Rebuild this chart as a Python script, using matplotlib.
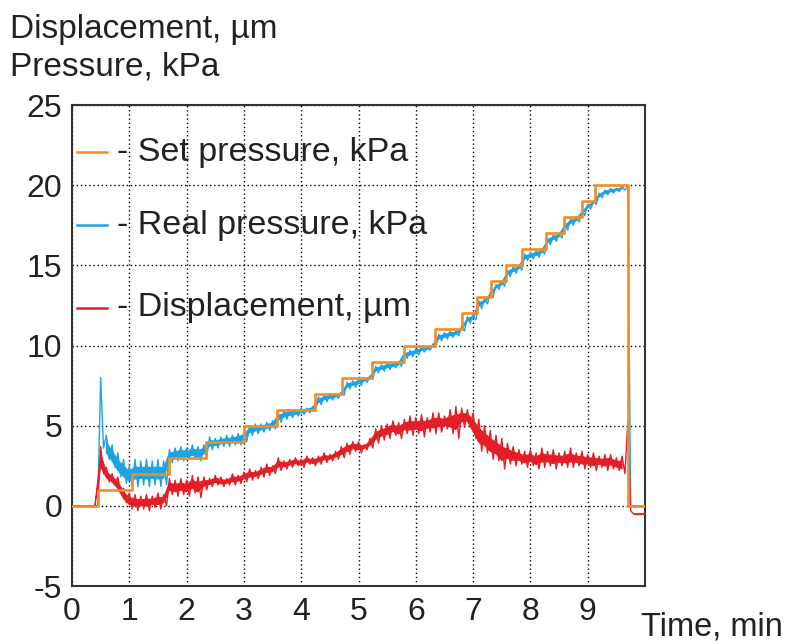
import matplotlib
matplotlib.use("Agg")
import matplotlib.pyplot as plt
import numpy as np

plt.rcParams['font.family'] = ['Liberation Sans', 'DejaVu Sans']
plt.rcParams['axes.unicode_minus'] = False

# sample times, min (noise band read as upper value at t, lower value at t + 0.05)
t = np.round(np.arange(0, 10.05, 0.1), 2)

disp_hi = [0, 0, 0, 0, 0, 3.7, 2.4, 2.0, 1.8, 1.1,
           0.8, 0.7, 0.6, 0.7, 0.6, 0.8, 0.7, 1.7, 1.6, 1.7,
           1.6, 1.9, 1.8, 1.8, 1.7, 1.9, 1.8, 1.7, 2.0, 1.9,
           2.1, 2.3, 2.2, 2.4, 2.6, 2.5, 3.0, 2.8, 2.9, 3.0,
           2.9, 3.1, 3.0, 3.1, 3.3, 3.2, 3.4, 3.7, 3.9, 4.0,
           4.0, 3.8, 4.2, 4.8, 5.0, 5.1, 5.3, 5.2, 5.4, 5.6,
           5.5, 5.7, 5.5, 5.8, 5.8, 5.6, 6.0, 6.2, 6.1, 6.0,
           5.8, 5.4, 5.0, 4.7, 4.4, 4.2, 3.9, 3.7, 3.5, 3.4,
           3.5, 3.3, 3.6, 3.4, 3.5, 3.3, 3.4, 3.6, 3.3, 3.4,
           3.2, 3.3, 3.1, 3.2, 3.2, 3.0, 3.1, 5.2, -0.5, -0.5,
           -0.5]
disp_lo = [0, 0, 0, 0, 0, 2.0, 1.5, 1.3, 0.8, 0.2,
           -0.2, -0.3, -0.2, -0.3, -0.1, -0.2, 0.0, 0.7, 0.6, 0.7,
           0.6, 0.8, 0.5, 1.0, 1.2, 1.3, 1.2, 1.3, 1.3, 1.4,
           1.5, 1.6, 1.7, 1.8, 1.9, 2.0, 2.2, 2.3, 2.4, 2.5,
           2.4, 2.6, 2.5, 2.6, 2.7, 2.8, 2.9, 3.0, 3.2, 3.4,
           3.3, 3.5, 3.6, 3.9, 4.1, 4.2, 4.4, 4.2, 4.5, 4.4,
           4.5, 4.3, 4.6, 4.5, 4.6, 4.8, 4.5, 4.2, 4.9, 5.0,
           4.2, 3.4, 3.3, 2.9, 2.8, 2.3, 2.6, 2.5, 2.6, 2.4,
           2.5, 2.3, 2.4, 2.5, 2.3, 2.5, 2.4, 2.4, 2.5, 2.3,
           2.4, 2.2, 2.4, 2.2, 2.3, 2.2, 2.0, -0.3, -0.5, -0.5,
           -0.5]

real_hi = [0, 0, 0, 0, 0, 8.0, 4.4, 3.8, 3.3, 2.9,
           2.5, 2.9, 2.8, 2.9, 2.8, 2.9, 2.8, 3.5, 3.6, 3.7,
           3.6, 3.8, 3.7, 3.8, 4.3, 4.2, 4.3, 4.4, 4.4, 4.5,
           4.6, 5.0, 5.1, 5.1, 5.2, 5.3, 5.8, 5.9, 6.0, 6.0,
           6.1, 6.1, 6.2, 6.8, 6.9, 7.0, 7.0, 7.1, 7.7, 7.8,
           7.9, 8.0, 8.1, 8.7, 8.8, 8.9, 8.9, 9.0, 9.6, 9.7,
           9.8, 9.9, 9.9, 10.1, 10.7, 10.8, 10.9, 10.9, 11.2, 11.8,
           11.9, 12.8, 12.9, 13.3, 13.8, 14.0, 14.7, 14.9, 15.0, 15.7,
           15.8, 15.9, 16.0, 16.7, 16.9, 17.0, 17.6, 17.9, 18.0, 18.4,
           18.8, 19.0, 19.5, 19.7, 19.8, 19.8, 19.9, 19.9, 0, 0,
           0]
real_lo = [0, 0, 0, 0, 0, 3.6, 2.9, 2.4, 1.8, 1.4,
           1.2, 1.2, 1.3, 1.2, 1.3, 1.2, 1.3, 2.7, 2.8, 2.8,
           2.9, 2.9, 2.8, 3.0, 3.5, 3.6, 3.7, 3.7, 3.8, 3.8,
           4.0, 4.4, 4.5, 4.6, 4.7, 4.8, 5.2, 5.4, 5.5, 5.6,
           5.7, 5.8, 5.9, 6.3, 6.5, 6.6, 6.7, 6.9, 7.3, 7.4,
           7.5, 7.7, 7.9, 8.3, 8.4, 8.5, 8.6, 8.7, 9.2, 9.3,
           9.4, 9.6, 9.7, 9.9, 10.3, 10.4, 10.5, 10.6, 10.9, 11.4,
           11.6, 12.3, 12.6, 13.0, 13.5, 13.7, 14.3, 14.5, 14.7, 15.3,
           15.4, 15.5, 15.7, 16.3, 16.5, 16.7, 17.2, 17.5, 17.7, 18.1,
           18.5, 18.8, 19.2, 19.4, 19.5, 19.6, 19.7, 0, 0, 0,
           0]

# set pressure steps
set_t = [0, 0.45, 1.04, 1.70, 2.33, 3.01, 3.57, 4.24, 4.72, 5.23, 5.79, 6.34,
         6.81, 7.07, 7.31, 7.57, 7.85, 8.27, 8.59, 8.90, 9.13, 9.70, 10.0]
set_p = [0, 1, 2, 3, 4, 5, 6, 7, 8, 9, 10, 11,
         12, 13, 14, 15, 16, 17, 18, 19, 20, 0, 0]

c_set = '#F28C28'
c_real = '#1CA3E0'
c_disp = '#E31E26'


def noisy(ax, hi, lo, color, z):
    hi = np.asarray(hi, dtype=float)
    lo = np.asarray(lo, dtype=float)
    xs = np.column_stack([t, t + 0.05]).ravel()
    ys = np.column_stack([hi, lo]).ravel()
    ax.plot(xs, ys, color=color, linewidth=1.0, zorder=z)
    # thinner solid core of the noise band, skipped across the sharp jumps
    w = (hi - lo) * 0.28
    ok = (hi - lo) < 4
    ax.fill_between(t, lo + w, hi - w, where=ok, color=color,
                    linewidth=0.8, edgecolor=color, zorder=z)


fig = plt.figure(figsize=(7.85, 6.44), dpi=100)
ax = fig.add_axes([72 / 785, 1 - 586 / 644, 573 / 785, 481 / 644])

noisy(ax, real_hi, real_lo, c_real, 3)
noisy(ax, disp_hi, disp_lo, c_disp, 4)
ax.step(set_t, set_p, where='post', color=c_set, linewidth=1.9, zorder=5)

ax.set_xlim(0, 10)
ax.set_ylim(-5, 25)
ax.set_xticks(range(0, 10))
ax.set_yticks(range(-5, 26, 5))
ax.grid(True, color='black', linestyle=(0, (1, 2)), linewidth=1.0)
ax.set_axisbelow(True)
ax.tick_params(length=0, labelsize=23, colors='#222222')
ax.tick_params(axis='x', pad=8)
ax.tick_params(axis='y', pad=7)
for s in ax.spines.values():
    s.set_color('#333333')
    s.set_linewidth(1.5)

# legend rows
rows = [(0.902, c_set, '- Set pressure, kPa'),
        (0.7505, c_real, '- Real pressure, kPa'),
        (0.578, c_disp, '- Displacement, \u00b5m')]
for yy, col, lab in rows:
    ax.plot([0.009, 0.061], [yy, yy], color=col, linewidth=1.8,
            transform=ax.transAxes, zorder=6)
    ax.text(0.078, yy, lab, transform=ax.transAxes, fontsize=24.5,
            va='center', ha='left', color='#222222', zorder=6)

fig.text(10 / 785, 1 - 38 / 644, 'Displacement, \u00b5m', fontsize=24,
         ha='left', va='baseline', color='#222222')
fig.text(10 / 785, 1 - 76 / 644, 'Pressure, kPa', fontsize=24,
         ha='left', va='baseline', color='#222222')
fig.text(641 / 785, 1 - 635 / 644, 'Time, min', fontsize=23.5,
         ha='left', va='baseline', color='#222222')

fig.savefig('out.png', dpi=100)
